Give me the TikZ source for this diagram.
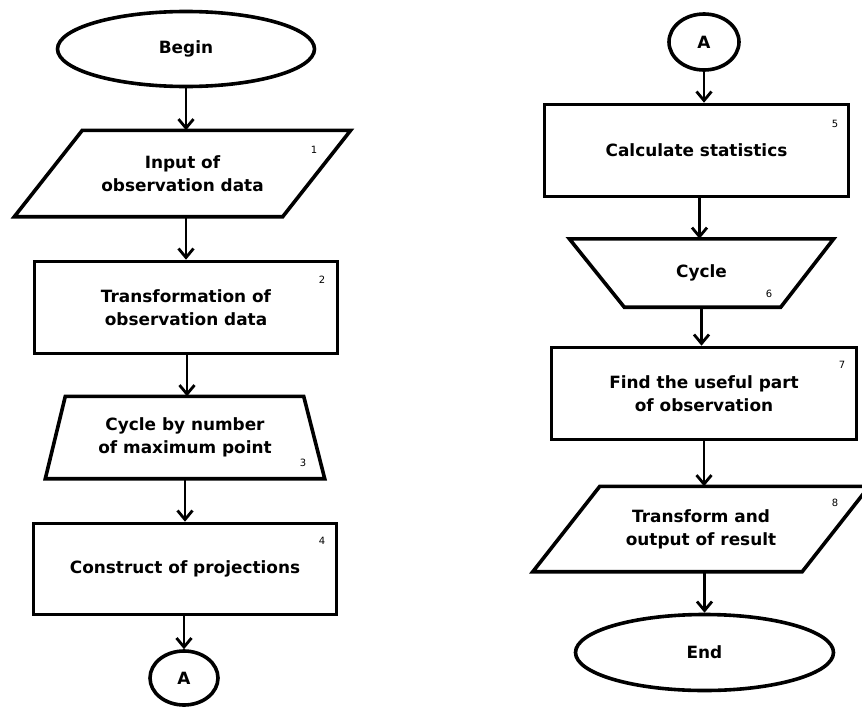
\documentclass[tikz,border=0pt]{standalone}
\usepackage{fontspec}
\setmainfont{DejaVu Sans}
\usetikzlibrary{arrows.meta,calc,shapes.geometric}
\begin{document}
\begin{tikzpicture}[x=1pt,y=-1pt,
  txt/.style={font=\bfseries\fontsize{16.9}{23}\selectfont, align=center, inner sep=0pt},
  box/.style={txt, draw, line width=3.6pt, rectangle},
  oval/.style={txt, draw, line width=3.6pt, ellipse},
  shapebox/.style={txt, rectangle},
  outline/.style={line width=3.6pt, line join=miter},
  num/.style={font=\fontsize{10}{10}\selectfont, inner sep=0pt},
  arr/.style={line width=2.8pt, -{Straight Barb[length=9pt,width=15pt]}}]
\useasboundingbox (0,0) rectangle (862,707);
\fill[white] (0,0) rectangle (862,707);

% ---------- left column ----------
\node[oval, minimum width=257pt, minimum height=75pt] (begin) at (186,49) {Begin};
\node[shapebox, minimum width=336pt, minimum height=86pt] (p1) at (182.5,173.5) {Input of\\observation data};
\draw[outline] ($(p1.north west)+(68,0)$) -- (p1.north east) -- ($(p1.south east)+(-68,0)$) -- (p1.south west) -- cycle;
\node[box, minimum width=303pt, minimum height=92pt] (r2) at (186,307.5) {Transformation of\\observation data};
\node[shapebox, minimum width=279pt, minimum height=82pt] (t3) at (185,437.5) {Cycle by number\\of maximum point};
\draw[outline] ($(t3.north west)+(20,0)$) -- ($(t3.north east)+(-21,0)$) -- (t3.south east) -- (t3.south west) -- cycle;
\node[box, minimum width=303pt, minimum height=91pt] (r4) at (185,569) {Construct of projections};
\node[oval, minimum width=68pt, minimum height=54pt] (a1) at (184,678) {A};

\node[num] (n1) at (314,150) {1};
\node[num] (n2) at (322,280) {2};
\node[num] (n3) at (303,463) {3};
\node[num] (n4) at (322,541) {4};

\draw[arr] (begin.south) -- (begin.south |- p1.north);
\draw[arr] (p1.south -| r2.north) -- (r2.north);
\draw[arr] (r2.south -| t3.north) ++(2,0) -- ($(t3.north)+(2,0)$);
\draw[arr] (t3.south) -- (t3.south |- r4.north);
\draw[arr] (r4.south -| a1.north) -- (a1.north);

% ---------- right column ----------
\node[oval, minimum width=70pt, minimum height=56pt] (a2) at (704,42) {A};
\node[box, minimum width=304pt, minimum height=92pt] (r5) at (696.5,150.5) {Calculate statistics};
\node[shapebox, minimum width=264pt, minimum height=68pt] (t6) at (701.5,273) {Cycle};
\draw[outline] (t6.north west) -- (t6.north east) -- ($(t6.south east)+(-53,0)$) -- ($(t6.south west)+(55,0)$) -- cycle;
\node[box, minimum width=305pt, minimum height=92pt] (r7) at (704,393.5) {Find the useful part\\of observation};
\node[shapebox, minimum width=336pt, minimum height=85pt] (p8) at (701,529) {Transform and\\output of result};
\draw[outline] ($(p8.north west)+(67,0)$) -- (p8.north east) -- ($(p8.south east)+(-67,0)$) -- (p8.south west) -- cycle;
\node[oval, minimum width=258pt, minimum height=76pt] (end) at (704.5,652.5) {End};

\node[num] (n5) at (835,124) {5};
\node[num] (n6) at (769,294) {6};
\node[num] (n7) at (842,365) {7};
\node[num] (n8) at (835,503) {8};

\draw[arr] (a2.south) -- (a2.south |- r5.north);
\draw[arr] (r5.south -| t6.north) ++(-2,0) -- ($(t6.north)+(-2,0)$);
\draw[arr] (t6.south) -- (t6.south |- r7.north);
\draw[arr] (r7.south) -- (r7.south |- p8.north);
\draw[arr] (p8.south -| end.north) -- (end.north);
\end{tikzpicture}
\end{document}
